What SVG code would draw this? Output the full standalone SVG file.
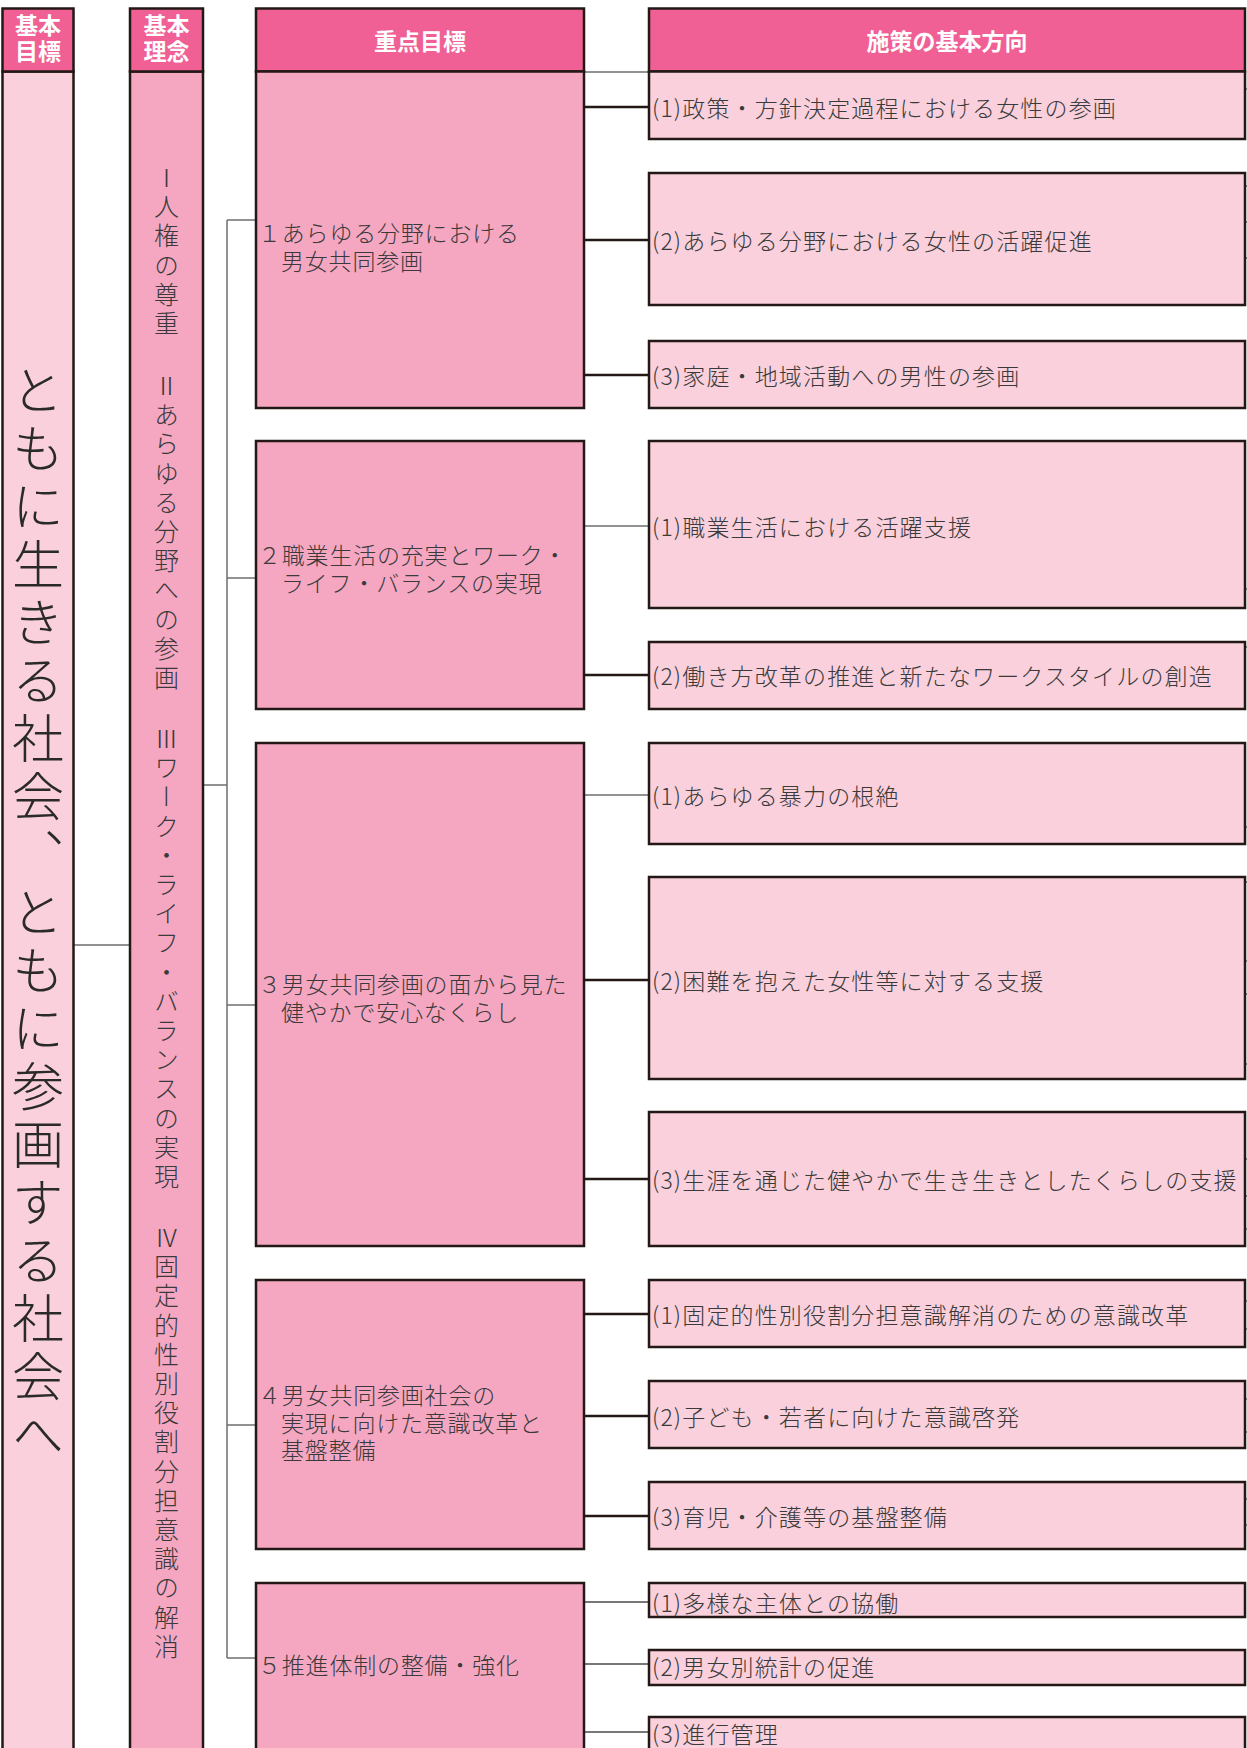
<svg xmlns="http://www.w3.org/2000/svg" width="1247" height="1748" viewBox="0 0 1247 1748">
<style>
.hdr{fill:#F06094;stroke:#231815;stroke-width:2.5}
.mid{fill:#F5A7C2;stroke:#231815;stroke-width:2.5}
.lt{fill:#F9D0DC;stroke:#231815;stroke-width:2.5}
.ht{font-family:"Noto Sans CJK JP","Noto Sans CJK SC",sans-serif;font-weight:700;font-size:23px;fill:#ffffff;text-anchor:middle;dominant-baseline:central}
.t{font-family:"Noto Sans CJK JP","Noto Sans CJK SC",sans-serif;font-weight:300;font-size:23px;letter-spacing:0.8px;fill:#3a3a3a;dominant-baseline:central}
.w{letter-spacing:1.15px}
.v1{font-family:"Noto Sans CJK JP","Noto Sans CJK SC",sans-serif;font-weight:300;writing-mode:vertical-rl;font-size:52px;letter-spacing:6px;fill:#2a2a2a}
.v2{font-family:"Noto Sans CJK JP","Noto Sans CJK SC",sans-serif;font-weight:300;writing-mode:vertical-rl;font-size:25px;letter-spacing:4.2px;fill:#3a3a3a}
.thin{stroke:#6e6e6e;stroke-width:1.5;fill:none}
.thick{stroke:#231815;stroke-width:2.5;fill:none}
.g5{stroke:#777777;stroke-width:2;fill:none}
.tick{stroke:#231815;stroke-width:1;fill:none}
</style>
<g id="connectors">
<line class="thin" x1="73" y1="945" x2="130" y2="945"/>
<line class="thin" x1="203" y1="785" x2="227" y2="785"/>
<line class="thin" x1="227" y1="220" x2="227" y2="1658"/>
<line class="thin" x1="227" y1="220" x2="256" y2="220"/>
<line class="thin" x1="227" y1="578" x2="256" y2="578"/>
<line class="thin" x1="227" y1="1005" x2="256" y2="1005"/>
<line class="thin" x1="227" y1="1425" x2="256" y2="1425"/>
<line class="thin" x1="227" y1="1658" x2="256" y2="1658"/>
<line class="thin" x1="584" y1="72" x2="649" y2="72"/>
<line class="thick" x1="584" y1="107" x2="649" y2="107"/>
<line class="thick" x1="584" y1="240" x2="649" y2="240"/>
<line class="thick" x1="584" y1="375" x2="649" y2="375"/>
<line class="thin" x1="584" y1="526" x2="649" y2="526"/>
<line class="thick" x1="584" y1="675" x2="649" y2="675"/>
<line class="thin" x1="584" y1="795" x2="649" y2="795"/>
<line class="thick" x1="584" y1="980" x2="649" y2="980"/>
<line class="thick" x1="584" y1="1179" x2="649" y2="1179"/>
<line class="thick" x1="584" y1="1314" x2="649" y2="1314"/>
<line class="thick" x1="584" y1="1416" x2="649" y2="1416"/>
<line class="thick" x1="584" y1="1516" x2="649" y2="1516"/>
<line class="g5" x1="584" y1="1602" x2="649" y2="1602"/>
<line class="g5" x1="584" y1="1664" x2="649" y2="1664"/>
<line class="g5" x1="584" y1="1732" x2="649" y2="1732"/>
<path class="tick" d="M1245 89H1247M1245 186H1247M1245 222H1247M1245 258H1247M1245 589H1247M1245 647H1247M1245 827H1247M1245 882H1247M1245 961H1247M1245 994H1247M1245 1064H1247M1245 1159H1247M1245 1196H1247M1245 1229H1247M1245 1301H1247M1245 1329H1247M1245 1399H1247M1245 1432H1247M1245 1499H1247M1245 1525H1247"/>
</g>
<g id="col1">
<rect class="lt" x="2.5" y="71.5" width="71" height="1690"/>
<rect class="hdr" x="2.5" y="8.5" width="71" height="63"/>
<text class="ht"><tspan x="38" y="24">基本</tspan><tspan x="38" y="50">目標</tspan></text>
<text class="v1" x="38" y="364">ともに生きる社会、ともに参画する社会へ</text>
</g>
<g id="col2">
<rect class="mid" x="130" y="71.5" width="73" height="1690"/>
<rect class="hdr" x="130" y="8.5" width="73" height="63"/>
<text class="ht"><tspan x="166.5" y="24">基本</tspan><tspan x="166.5" y="50">理念</tspan></text>
<text class="v2" x="166.5" y="165">Ⅰ人権の尊重</text>
<text class="v2" x="166.5" y="373">Ⅱあらゆる分野への参画</text>
<text class="v2" x="166.5" y="726">Ⅲワーク・ライフ・バランスの実現</text>
<text class="v2" x="166.5" y="1225">Ⅳ固定的性別役割分担意識の解消</text>
</g>
<g id="col3-header">
<rect class="hdr" x="256" y="8.5" width="328" height="63"/>
<text class="ht" x="420" y="40">重点目標</text>
</g>
<g id="goal1">
<rect class="mid" x="256" y="71.5" width="328" height="336.5"/>
<text class="t"><tspan x="258" y="232">１あらゆる分野における</tspan><tspan x="281" y="260">男女共同参画</tspan></text>
</g>
<g id="goal2">
<rect class="mid" x="256" y="441" width="328" height="268"/>
<text class="t"><tspan x="258" y="554">２職業生活の充実とワーク・</tspan><tspan x="281" y="582">ライフ・バランスの実現</tspan></text>
</g>
<g id="goal3">
<rect class="mid" x="256" y="743" width="328" height="503"/>
<text class="t"><tspan x="258" y="983">３男女共同参画の面から見た</tspan><tspan x="281" y="1011">健やかで安心なくらし</tspan></text>
</g>
<g id="goal4">
<rect class="mid" x="256" y="1280" width="328" height="269"/>
<text class="t"><tspan x="258" y="1394">４男女共同参画社会の</tspan><tspan x="281" y="1422">実現に向けた意識改革と</tspan><tspan x="281" y="1449">基盤整備</tspan></text>
</g>
<g id="goal5">
<rect class="mid" x="256" y="1583" width="328" height="180"/>
<text class="t" x="258" y="1664">５推進体制の整備・強化</text>
</g>
<g id="col4-header">
<rect class="hdr" x="649" y="8.5" width="596" height="63"/>
<text class="ht" x="947" y="40">施策の基本方向</text>
</g>
<g id="p1-1"><rect class="lt" x="649" y="71.5" width="596" height="67.5"/><text class="t w" x="652" y="107">(1)政策・方針決定過程における女性の参画</text></g>
<g id="p1-2"><rect class="lt" x="649" y="173" width="596" height="132"/><text class="t w" x="652" y="240">(2)あらゆる分野における女性の活躍促進</text></g>
<g id="p1-3"><rect class="lt" x="649" y="341" width="596" height="67"/><text class="t w" x="652" y="375">(3)家庭・地域活動への男性の参画</text></g>
<g id="p2-1"><rect class="lt" x="649" y="441" width="596" height="167"/><text class="t w" x="652" y="526">(1)職業生活における活躍支援</text></g>
<g id="p2-2"><rect class="lt" x="649" y="642" width="596" height="67"/><text class="t w" x="652" y="675">(2)働き方改革の推進と新たなワークスタイルの創造</text></g>
<g id="p3-1"><rect class="lt" x="649" y="743" width="596" height="101"/><text class="t w" x="652" y="795">(1)あらゆる暴力の根絶</text></g>
<g id="p3-2"><rect class="lt" x="649" y="877" width="596" height="202"/><text class="t w" x="652" y="980">(2)困難を抱えた女性等に対する支援</text></g>
<g id="p3-3"><rect class="lt" x="649" y="1112" width="596" height="134"/><text class="t w" x="652" y="1179">(3)生涯を通じた健やかで生き生きとしたくらしの支援</text></g>
<g id="p4-1"><rect class="lt" x="649" y="1280" width="596" height="67"/><text class="t w" x="652" y="1314">(1)固定的性別役割分担意識解消のための意識改革</text></g>
<g id="p4-2"><rect class="lt" x="649" y="1381" width="596" height="67"/><text class="t w" x="652" y="1416">(2)子ども・若者に向けた意識啓発</text></g>
<g id="p4-3"><rect class="lt" x="649" y="1482" width="596" height="67"/><text class="t w" x="652" y="1516">(3)育児・介護等の基盤整備</text></g>
<g id="p5-1"><rect class="lt" x="649" y="1583" width="596" height="34"/><text class="t w" x="652" y="1602">(1)多様な主体との協働</text></g>
<g id="p5-2"><rect class="lt" x="649" y="1650" width="596" height="35"/><text class="t w" x="652" y="1666">(2)男女別統計の促進</text></g>
<g id="p5-3"><rect class="lt" x="649" y="1717" width="596" height="50"/><text class="t w" x="652" y="1733">(3)進行管理</text></g>
</svg>
